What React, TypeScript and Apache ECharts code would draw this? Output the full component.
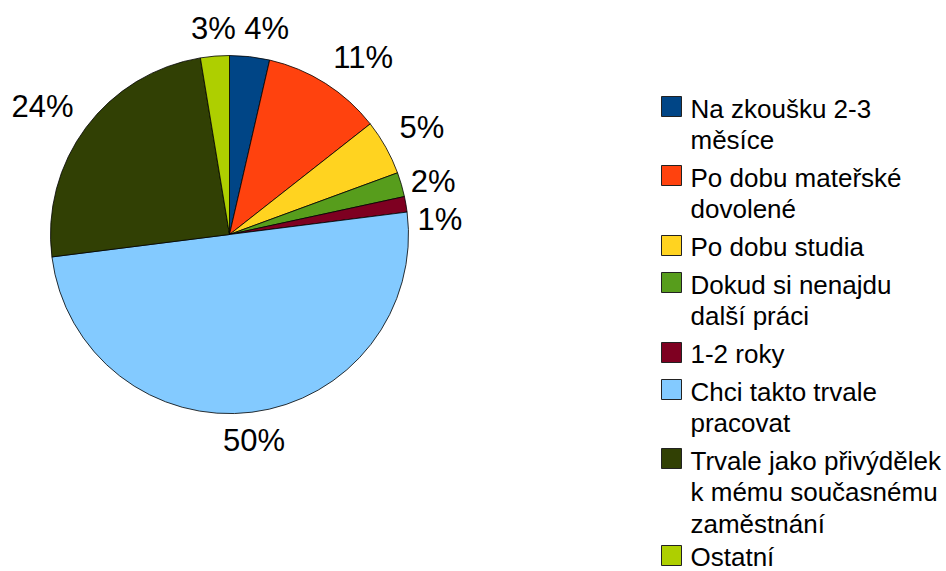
import React, { useEffect, useRef } from 'react';
import * as echarts from 'echarts';

const categories = [
  'Na zkoušku 2-3 měsíce',
  'Po dobu mateřské dovolené',
  'Po dobu studia',
  'Dokud si nenajdu další práci',
  '1-2 roky',
  'Chci takto trvale pracovat',
  'Trvale jako přivýdělek k mému současnému zaměstnání',
  'Ostatní',
];
const legendLabels = [
  'Na zkoušku 2-3\nměsíce',
  'Po dobu mateřské\ndovolené',
  'Po dobu studia',
  'Dokud si nenajdu\ndalší práci',
  '1-2 roky',
  'Chci takto trvale\npracovat',
  'Trvale jako přivýdělek\nk mému současnému\nzaměstnání',
  'Ostatní',
];
const values = [3.6, 10.8, 5.0, 2.2, 1.4, 50.0, 24.4, 2.6];
const colors = ['#004586', '#ff420e', '#ffd320', '#579d1c', '#7e0021', '#83caff', '#314004', '#aecf00'];

const CX = 229.5;
const CY = 234.5;
const R = 179;
const labelNudge = [[15, 0], [0, 0], [0, 0], [0, 0], [2, 17], [0, 0], [0, 0], [0, 0]];
const FONT = 'Liberation Sans, Arial, sans-serif';

export default function App() {
  const ref = useRef<HTMLDivElement>(null);
  useEffect(() => {
    const chart = echarts.init(ref.current!, null, { renderer: 'svg' });
    const total = values.reduce((a, b) => a + b, 0);
    const mids: number[] = [];
    let acc = 0;
    values.forEach((v) => {
      mids.push(((acc + v / 2) / total) * 360);
      acc += v;
    });

    const LH = 31.5;
    const graphics: any[] = [];
    let ty = 92.75;
    legendLabels.forEach((t, i) => {
      const n = t.split('\n').length;
      const lh = n === 1 ? 18 : LH;
      const y0 = i === legendLabels.length - 1 ? ty - 4.5 : ty;
      graphics.push({
        type: 'rect',
        shape: { x: 661.5, y: Math.round(y0 + 3.5) + 0.5, width: 20, height: 20 },
        style: { fill: colors[i], stroke: '#222', lineWidth: 1 },
      });
      graphics.push({
        type: 'text',
        x: 690.5,
        y: y0 + LH / 2 - lh / 2,
        style: {
          text: t,
          fontSize: 26,
          fontFamily: FONT,
          lineHeight: lh,
          fill: '#000',
          verticalAlign: 'top',
          align: 'left',
        },
      });
      ty += n * LH + 6.2;
    });

    chart.setOption({
      animation: false,
      backgroundColor: '#fff',
      color: colors,
      graphic: graphics,
      series: [
        {
          type: 'pie',
          center: [CX, CY],
          radius: R,
          startAngle: 90,
          clockwise: true,
          avoidLabelOverlap: false,
          emphasis: { disabled: true },
          itemStyle: { borderColor: '#000', borderWidth: 0.8 },
          label: {
            show: true,
            position: 'outside',
            formatter: (p: any) => Math.round(p.percent) + '%',
            fontSize: 31,
            fontFamily: FONT,
            color: '#000',
          },
          labelLine: { show: false },
          labelLayout: (p: any) => {
            const i = p.dataIndex;
            const c = mids[i];
            const rad = (c * Math.PI) / 180;
            const dx = Math.sin(rad);
            const dy = -Math.cos(rad);
            const theta = (((90 - c) % 360) + 360) % 360;
            const w = p.labelRect.width - 2.5;
            const h = 22.2;
            let sx = 0;
            let sy = 0;
            if (theta <= 22.5 || theta > 337.5) { sx = 1; }
            else if (theta < 67.5) { sx = 1; sy = -1; }
            else if (theta < 112.5) { sy = -1; }
            else if (theta <= 157.5) { sx = -1; sy = -1; }
            else if (theta <= 202.5) { sx = -1; }
            else if (theta < 247.5) { sx = -1; sy = 1; }
            else if (theta < 292.5) { sy = 1; }
            else { sx = 1; sy = 1; }
            const D = sy === 0 ? 190 : 196;
            const ax = CX + dx * D;
            const ay = CY + dy * D;
            return {
              x: ax + (sx * w) / 2 + labelNudge[i][0],
              y: ay + (sy * h) / 2 + labelNudge[i][1],
              align: 'center',
              verticalAlign: 'middle',
            };
          },
          data: categories.map((n, i) => ({ name: n, value: values[i] })),
        },
      ],
    });
    return () => chart.dispose();
  }, []);
  return (
    <div
      ref={ref}
      style={{ position: 'fixed', left: 0, top: 0, width: 946, height: 571, background: '#fff' }}
    />
  );
}
